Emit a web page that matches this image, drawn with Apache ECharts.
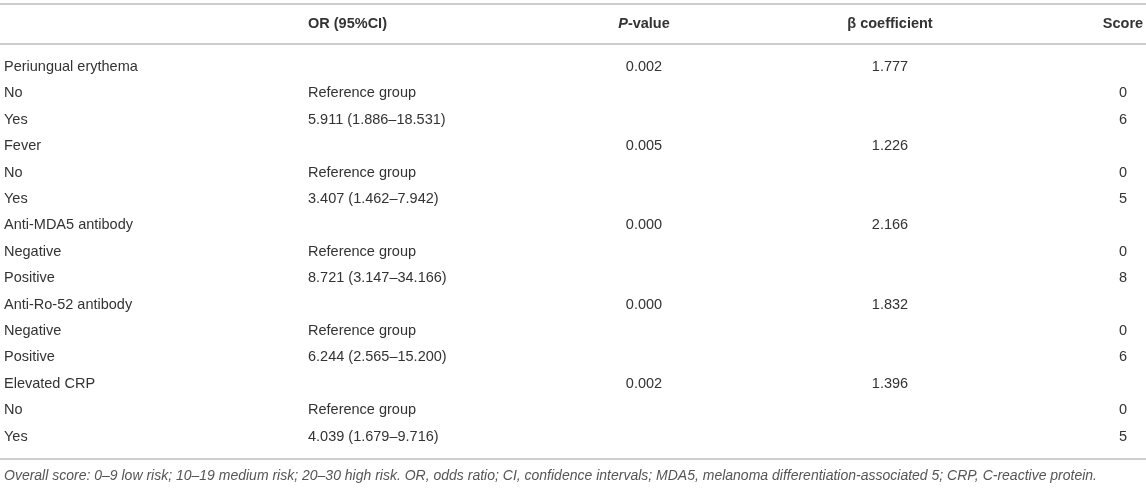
<!DOCTYPE html>
<html>
<head>
<meta charset="utf-8">
<script src="https://cdn.jsdelivr.net/npm/echarts@6/dist/echarts.min.js"></script>
<style>
  html, body { margin: 0; padding: 0; background: #fff; }
  #chart { width: 1146px; height: 488px; }
</style>
</head>
<body>
<div id="chart"></div>
<script>
// ---- data ----
const headers = ['', 'OR (95%CI)', 'P-value', 'β coefficient', 'Score'];
const rowLabels = ['Periungual erythema', 'No', 'Yes', 'Fever', 'No', 'Yes', 'Anti-MDA5 antibody', 'Negative', 'Positive', 'Anti-Ro-52 antibody', 'Negative', 'Positive', 'Elevated CRP', 'No', 'Yes'];
const orValues = ['', 'Reference group', '5.911 (1.886–18.531)', '', 'Reference group', '3.407 (1.462–7.942)', '', 'Reference group', '8.721 (3.147–34.166)', '', 'Reference group', '6.244 (2.565–15.200)', '', 'Reference group', '4.039 (1.679–9.716)'];
const pValues = ['0.002', '', '', '0.005', '', '', '0.000', '', '', '0.000', '', '', '0.002', '', ''];
const betaValues = ['1.777', '', '', '1.226', '', '', '2.166', '', '', '1.832', '', '', '1.396', '', ''];
const scores = ['', '0', '6', '', '0', '5', '', '0', '8', '', '0', '6', '', '0', '5'];
const footnote = 'Overall score: 0–9 low risk; 10–19 medium risk; 20–30 high risk. OR, odds ratio; CI, confidence intervals; MDA5, melanoma differentiation-associated 5; CRP, C-reactive protein.';

// ---- layout (not data) ----
const colAnchor = [4, 308, 644, 890, 1123];
const colAlign = ['left', 'left', 'center', 'center', 'center'];
const FONT = '"Liberation Sans", Arial, Helvetica, sans-serif';
const TEXT = '#333';
const RULE = '#bdbdbd';

const columns = [rowLabels, orValues, pValues, betaValues, scores];
const cells = [];
columns.forEach((col, c) => col.forEach((t, r) => { if (t !== '') cells.push({ c, r, t }); }));
const headCells = headers.map((t, c) => ({ c, t })).filter(h => h.t !== '');

const chart = echarts.init(document.getElementById('chart'), null, { renderer: 'canvas' });
const hiddenAxisBits = { axisLabel: { show: false }, axisTick: { show: false }, splitLine: { show: false } };
const ruleLine = { show: true, onZero: false, lineStyle: { color: RULE, width: 1.5 } };

chart.setOption({
  animation: false,
  title: {
    text: footnote, left: 4, top: 469, padding: 0,
    textStyle: { fontStyle: 'italic', fontWeight: 'normal', fontSize: 14, color: '#555', fontFamily: FONT }
  },
  grid: [
    { left: 0, right: 0, top: 4, height: 40 },
    { left: 0, right: 0, top: 44, height: 415 }
  ],
  xAxis: [
    Object.assign({ type: 'value', gridIndex: 0, min: 0, max: 1146, position: 'top', axisLine: ruleLine }, hiddenAxisBits),
    Object.assign({ type: 'value', gridIndex: 0, min: 0, max: 1146, position: 'bottom', axisLine: ruleLine }, hiddenAxisBits),
    Object.assign({ type: 'value', gridIndex: 1, min: 0, max: 1146, position: 'bottom', axisLine: ruleLine }, hiddenAxisBits)
  ],
  yAxis: [
    Object.assign({ type: 'value', gridIndex: 0, min: 0, max: 1, axisLine: { show: false } }, hiddenAxisBits),
    Object.assign({ type: 'value', gridIndex: 1, min: -0.87, max: 14.85, inverse: true, axisLine: { show: false } }, hiddenAxisBits)
  ],
  series: [
    {
      type: 'custom', xAxisIndex: 0, yAxisIndex: 0, silent: true,
      data: headCells.map(h => [colAnchor[h.c], 0.5]),
      renderItem: function (params, api) {
        const h = headCells[params.dataIndex];
        const p = api.coord([api.value(0), api.value(1)]);
        const isP = h.t === 'P-value';
        return {
          type: 'text', x: p[0], y: p[1],
          style: {
            text: isP ? '{i|P}{b|-value}' : h.t,
            rich: isP ? { i: { fontStyle: 'italic', fontWeight: 'bold', fontSize: 14.5, fontFamily: FONT, fill: TEXT }, b: { fontWeight: 'bold', fontSize: 14.5, fontFamily: FONT, fill: TEXT } } : undefined,
            fill: TEXT, fontSize: 14.5, fontWeight: 'bold', fontFamily: FONT,
            align: colAlign[h.c], verticalAlign: 'middle'
          }
        };
      }
    },
    {
      type: 'custom', xAxisIndex: 2, yAxisIndex: 1, silent: true,
      data: cells.map(d => [colAnchor[d.c], d.r]),
      renderItem: function (params, api) {
        const d = cells[params.dataIndex];
        const p = api.coord([api.value(0), api.value(1)]);
        return {
          type: 'text', x: p[0], y: p[1],
          style: {
            text: d.t, fill: TEXT, fontSize: 14.5, fontFamily: FONT,
            align: colAlign[d.c], verticalAlign: 'middle'
          }
        };
      }
    }
  ]
});
</script>
</body>
</html>
